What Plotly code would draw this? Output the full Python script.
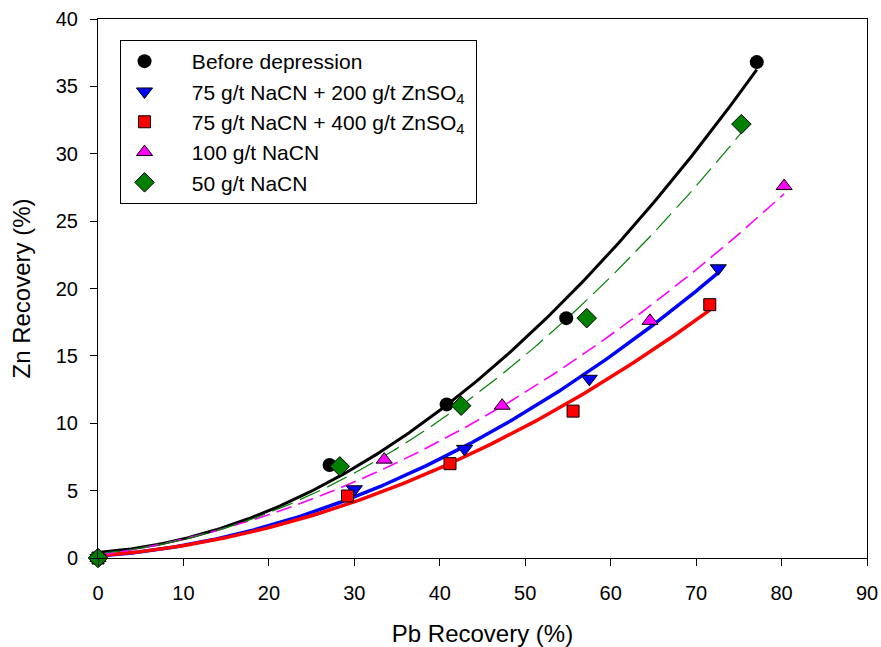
import numpy as np
import plotly.graph_objects as go

# Data
before_x = [0, 27.1, 40.8, 54.8, 77.1]
before_y = [0, 6.9, 11.4, 17.8, 36.8]
zn200_x = [0, 30.0, 42.9, 57.5, 72.6]
zn200_y = [0, 5.1, 8.1, 13.3, 21.5]
zn400_x = [0, 29.2, 41.2, 55.6, 71.6]
zn400_y = [0, 4.6, 7.0, 10.9, 18.8]
nacn100_x = [0, 33.5, 47.3, 64.6, 80.3]
nacn100_y = [0, 7.3, 11.3, 17.6, 27.6]
nacn50_x = [0, 28.3, 42.5, 57.2, 75.3]
nacn50_y = [0, 6.8, 11.3, 17.8, 32.2]

names = ["Before depression",
         "75 g/t NaCN + 200 g/t ZnSO<sub>4</sub>",
         "75 g/t NaCN + 400 g/t ZnSO<sub>4</sub>",
         "100 g/t NaCN",
         "50 g/t NaCN"]

pad = "\u00a0" * 4
labels = [pad + n + ("\u00a0" if "ZnSO" in n else "") for n in names]

series = [
    (before_x, before_y, "black", "circle", 14, dict(color="black", width=3, dash="solid")),
    (zn200_x, zn200_y, "blue", "triangle-down", 14, dict(color="blue", width=3.5, dash="solid")),
    (zn400_x, zn400_y, "red", "square", 12, dict(color="red", width=3.5, dash="solid")),
    (nacn100_x, nacn100_y, "magenta", "triangle-up", 14, dict(color="magenta", width=1.6, dash="16px,7px")),
    (nacn50_x, nacn50_y, "green", "diamond", 15, dict(color="green", width=1.2, dash="22px,8px")),
]

fig = go.Figure()

# fitted curves (regression of the data)
for x, y, c, sym, sz, ln in series:
    coef = np.polyfit(x, y, 2)
    xs = np.linspace(0, max(x), 200)
    fig.add_trace(go.Scatter(x=xs, y=np.polyval(coef, xs), mode="lines", line=ln,
                             showlegend=False, hoverinfo="skip", cliponaxis=False))

for (x, y, c, sym, sz, ln), nm in zip(series, labels):
    fig.add_trace(go.Scatter(x=x, y=y, mode="markers", name=nm, cliponaxis=False,
                             marker=dict(symbol=sym, size=sz, color=c,
                                         line=dict(color="black", width=1 if c != "black" else 0))))

fig.update_layout(
    width=881, height=647,
    margin=dict(l=98, r=14, t=19, b=89, autoexpand=False),
    paper_bgcolor="white", plot_bgcolor="white",
    font=dict(family="Liberation Sans, Arial", size=20, color="black"),
    showlegend=True,
    legend=dict(x=0.028, y=0.961, xanchor="left", yanchor="top",
                bordercolor="black", borderwidth=1, bgcolor="white",
                font=dict(size=21), itemwidth=38, tracegroupgap=1),
    xaxis=dict(range=[0, 90], tickvals=list(range(0, 91, 10)), showgrid=False, zeroline=False,
               showline=True, linecolor="black", linewidth=1, mirror=True,
               ticks="outside", ticklen=7, tickcolor="black", ticklabelstandoff=10,
               title=dict(text="Pb Recovery (%)", font=dict(size=24), standoff=22)),
    yaxis=dict(range=[0, 40], tickvals=list(range(0, 41, 5)), showgrid=False, zeroline=False,
               showline=True, linecolor="black", linewidth=1, mirror=True,
               ticks="outside", ticklen=7, tickcolor="black", ticklabelstandoff=8,
               title=dict(text="Zn Recovery (%)", font=dict(size=24), standoff=18)),
)

fig.write_html("out.html")
